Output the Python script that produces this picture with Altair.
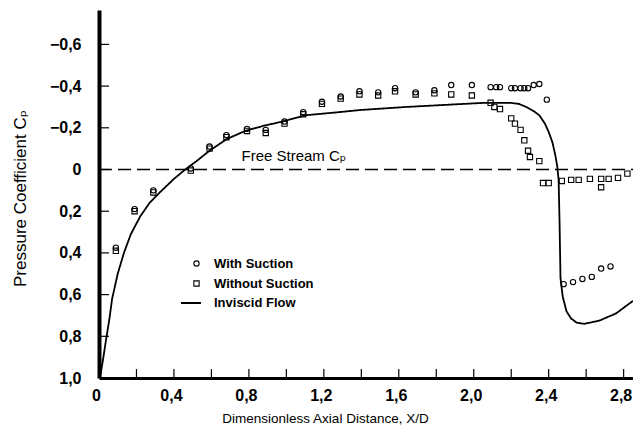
import altair as alt
import pandas as pd

# Inviscid flow solution (X/D, Cp)
inviscid_x = [0.005, 0.02, 0.037, 0.055, 0.07, 0.10, 0.133, 0.17, 0.22, 0.27, 0.33,
              0.40, 0.46, 0.52, 0.59, 0.68, 0.78, 0.88, 0.98, 1.10, 1.28, 1.39, 1.64,
              1.85, 2.06, 2.19, 2.24, 2.28, 2.32, 2.35, 2.38, 2.40, 2.42, 2.435, 2.445,
              2.453, 2.458, 2.463, 2.475, 2.495, 2.52, 2.55, 2.59, 2.67, 2.76, 2.85]
inviscid_cp = [1.0, 0.92, 0.82, 0.72, 0.62, 0.50, 0.40, 0.31, 0.225, 0.16, 0.105,
               0.045, 0.0, -0.04, -0.09, -0.145, -0.185, -0.21, -0.23, -0.26, -0.275, -0.285, -0.30,
               -0.31, -0.32, -0.32, -0.315, -0.30, -0.28, -0.26, -0.22, -0.18, -0.13, -0.07, -0.02,
               0.05, 0.25, 0.52, 0.61, 0.68, 0.715, 0.735, 0.74, 0.725, 0.69, 0.63]

# Measured pressure, with suction
with_x = [0.09, 0.19, 0.29, 0.49, 0.59, 0.68, 0.79, 0.89, 0.99, 1.09, 1.19, 1.29, 1.39,
          1.49, 1.58, 1.69, 1.79, 1.88, 1.99,
          2.09, 2.12, 2.14, 2.20, 2.22, 2.25, 2.27, 2.29, 2.32, 2.35, 2.39,
          2.48, 2.53, 2.58, 2.63, 2.68, 2.73]
with_cp = [0.375, 0.19, 0.10, -0.005, -0.11, -0.165, -0.195, -0.19, -0.23, -0.275, -0.325, -0.35, -0.375,
           -0.37, -0.39, -0.37, -0.38, -0.405, -0.405,
           -0.395, -0.395, -0.395, -0.39, -0.39, -0.39, -0.39, -0.39, -0.405, -0.41, -0.335,
           0.55, 0.54, 0.525, 0.515, 0.475, 0.465]

# Measured pressure, without suction
without_x = [0.09, 0.19, 0.29, 0.49, 0.59, 0.68, 0.79, 0.89, 0.99, 1.09, 1.19, 1.29, 1.39,
             1.49, 1.58, 1.69, 1.79, 1.88, 1.99,
             2.09, 2.11, 2.14, 2.20, 2.22, 2.25, 2.27, 2.29, 2.30, 2.35,
             2.37, 2.40, 2.47, 2.52, 2.56, 2.62, 2.68, 2.68, 2.72, 2.77, 2.82]
without_cp = [0.39, 0.20, 0.11, 0.005, -0.10, -0.155, -0.185, -0.175, -0.22, -0.265, -0.315, -0.34, -0.36,
              -0.355, -0.375, -0.36, -0.365, -0.36, -0.355,
              -0.32, -0.30, -0.29, -0.245, -0.22, -0.19, -0.14, -0.09, -0.06, -0.04,
              0.065, 0.065, 0.055, 0.05, 0.05, 0.045, 0.045, 0.085, 0.045, 0.04, 0.02]

series_names = ["With Suction", "Without Suction", "Inviscid Flow"]

x_label_values = [0, 0.4, 0.8, 1.2, 1.6, 2.0, 2.4, 2.8]
x_tick_values = [0.2, 0.4, 0.6, 0.8, 1.0, 1.2, 1.4, 1.6, 1.8, 2.0, 2.2, 2.4, 2.6, 2.8]
y_label_values = [-0.6, -0.4, -0.2, 0, 0.2, 0.4, 0.6, 0.8, 1.0]
y_tick_values = [-0.6, -0.4, -0.2, 0, 0.2, 0.4, 0.6, 0.8]

free_stream_cp = [0.0]
free_stream_x = [0.0]
free_stream_x2 = [2.85]
free_stream_label = "Free Stream Cₚ"
free_stream_label_x = [1.04]
free_stream_label_cp = [-0.025]

W, H = 534, 368
SANS = "Liberation Sans, Arial, DejaVu Sans"

x_scale = alt.Scale(domain=[0, 2.85], nice=False, zero=False)
y_scale = alt.Scale(domain=[-0.765, 1.0], reverse=True, nice=False, zero=False)

# decimal comma, as in the printed figure
label_expr = "datum.value == 0 ? '0' : replace(format(datum.value, '.1f'), '.', ',')"

x_axis = alt.Axis(
    values=x_label_values, labelExpr=label_expr, ticks=False, grid=False,
    domainColor="black", domainWidth=3,
    labelFont=SANS, labelFontSize=16, labelFontWeight="bold", labelColor="black",
    labelPadding=9, labelFlush=False, labelOffset=-3,
    title="Dimensionless Axial Distance, X/D", titleFont=SANS, titleFontSize=13.5,
    titleFontWeight="normal", titleColor="black",
    titleX=226, titleY=40, titleAlign="center", titleBaseline="middle",
)
y_axis = alt.Axis(
    values=y_label_values, labelExpr=label_expr, ticks=False, grid=False,
    domainColor="black", domainWidth=4,
    labelFont=SANS, labelFontSize=16, labelFontWeight="bold", labelColor="black",
    labelPadding=18, labelFlush=False,
    title="Pressure Coefficient Cₚ", titleFont=SANS, titleFontSize=17,
    titleFontWeight="normal", titleColor="black", titleAngle=270,
    titleX=-79, titleY=188, titleAlign="center", titleBaseline="middle",
)


def X(field):
    return alt.X(field, scale=x_scale, axis=x_axis)


def Y(field):
    return alt.Y(field, scale=y_scale, axis=y_axis)


line_df = pd.DataFrame({
    "x": inviscid_x, "cp": inviscid_cp,
    "i": list(range(len(inviscid_x))),
    "series": series_names[2],
})
pts_df = pd.concat([
    pd.DataFrame({"x": with_x, "cp": with_cp, "series": series_names[0]}),
    pd.DataFrame({"x": without_x, "cp": without_cp, "series": series_names[1]}),
])
fs_df = pd.DataFrame({"x": free_stream_x, "x2": free_stream_x2, "cp": free_stream_cp})
fs_label_df = pd.DataFrame({"x": free_stream_label_x, "cp": free_stream_label_cp,
                            "t": [free_stream_label]})

line = alt.Chart(line_df).mark_line(color="black", strokeWidth=1.8).encode(
    x=X("x:Q"),
    y=Y("cp:Q"),
    order="i:Q",
    strokeDash=alt.StrokeDash(
        "series:N",
        scale=alt.Scale(domain=[series_names[2]], range=[[1, 0]]),
        legend=alt.Legend(
            title=None, orient="none", legendX=81, legendY=282, padding=0,
            labelFont=SANS, labelFontSize=13, labelFontWeight="bold", labelColor="black",
            labelOffset=12, symbolType="stroke", symbolSize=400,
            symbolStrokeWidth=1.8, symbolStrokeColor="black",
        ),
    ),
)

free_stream = alt.Chart(fs_df).mark_rule(
    color="black", strokeWidth=1.4, strokeDash=[13, 6]
).encode(
    x=X("x:Q"),
    x2="x2:Q",
    y=Y("cp:Q"),
)

points = alt.Chart(pts_df).mark_point(
    filled=False, color="black", strokeWidth=1.1, size=28, opacity=1
).encode(
    x=X("x:Q"),
    y=Y("cp:Q"),
    shape=alt.Shape(
        "series:N",
        scale=alt.Scale(domain=series_names[:2], range=["circle", "square"]),
        legend=alt.Legend(
            title=None, orient="none", legendX=91, legendY=247, padding=0,
            labelFont=SANS, labelFontSize=13, labelFontWeight="bold", labelColor="black",
            labelOffset=11, rowPadding=6, symbolSize=28,
            symbolStrokeColor="black", symbolStrokeWidth=1.1, symbolFillColor="white",
        ),
    ),
)

label = alt.Chart(fs_label_df).mark_text(
    font=SANS, fontSize=15, color="black", align="center", baseline="bottom",
).encode(
    x=X("x:Q"),
    y=Y("cp:Q"),
    text="t:N",
)

x_ticks = alt.Chart(pd.DataFrame({"v": x_tick_values})).mark_rule(
    color="black", strokeWidth=1.2
).encode(
    x=X("v:Q"),
    y=alt.value(H),
    y2=alt.value(H - 9),
)

y_ticks = alt.Chart(pd.DataFrame({"v": y_tick_values})).mark_rule(
    color="black", strokeWidth=1.2
).encode(
    y=Y("v:Q"),
    x=alt.value(0),
    x2=alt.value(10),
)

chart = alt.layer(line, free_stream, points, label, x_ticks, y_ticks).properties(
    width=W, height=H,
    padding={"left": 99, "top": 10, "right": 0, "bottom": 54},
    autosize=alt.AutoSizeParams(type="none"),
    background="white",
).configure_view(stroke=None)

chart.save("out.html", embed_options={"renderer": "svg", "actions": False})
